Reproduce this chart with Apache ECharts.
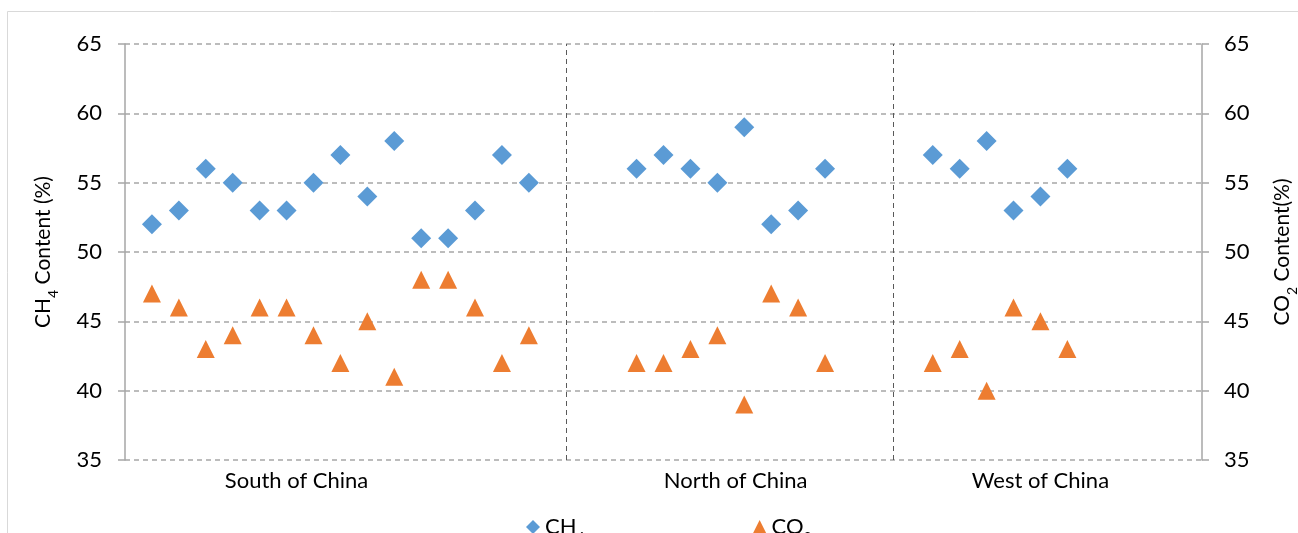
<!DOCTYPE html>
<html>
<head>
<meta charset="utf-8">
<script src="https://cdn.jsdelivr.net/npm/echarts@6/dist/echarts.min.js"></script>
<style>
html,body{margin:0;padding:0;background:#fff;}
#chart{width:1298px;height:533px;}
</style>
</head>
<body>
<div id="chart"></div>
<script>
// ---- data ----
const regions = ['South of China', 'North of China', 'West of China'];
const regionLabelPos = [6.37, 22.68, 34.0];      // sample-index position of region labels
const regionDividers = [16.38, 28.55];           // sample-index position of region separators

const southIdx = [1,2,3,4,5,6,7,8,9,10,11,12,13,14,15];
const southCH4 = [52,53,56,55,53,53,55,57,54,58,51,51,53,57,55];
const southCO2 = [47,46,43,44,46,46,44,42,45,41,48,48,46,42,44];

const northIdx = [19,20,21,22,23,24,25,26];
const northCH4 = [56,57,56,55,59,52,53,56];
const northCO2 = [42,42,43,44,39,47,46,42];

const westIdx = [30,31,32,33,34,35];
const westCH4 = [57,56,58,53,54,56];
const westCO2 = [42,43,40,46,45,43];

const yTicks = [35,40,45,50,55,60,65];

// ---- build ----
const idx = southIdx.concat(northIdx, westIdx);
const ch4 = southCH4.concat(northCH4, westCH4);
const co2 = southCO2.concat(northCO2, westCO2);
const ch4Data = idx.map((x, i) => [x, ch4[i]]);
const co2Data = idx.map((x, i) => [x, co2[i]]);

const FONT = 'Lato';
const FS = 22;
const gray = '#a6a6a6';
const subRich = {
  n: {fontFamily: FONT, fontSize: FS, color: '#000'},
  s: {fontFamily: FONT, fontSize: 14, color: '#000', verticalAlign: 'bottom', padding: [0,0,-6,0]}
};
const nameRich = {
  n: {fontFamily: FONT, fontSize: 21, color: '#000'},
  s: {fontFamily: FONT, fontSize: 14, color: '#000', verticalAlign: 'bottom', padding: [0,0,-6,0]}
};

const chart = echarts.init(document.getElementById('chart'), null, {renderer: 'canvas'});
chart.setOption({
  animation: false,
  backgroundColor: '#fff',
  graphic: [{
    type: 'rect', silent: true, z: -10,
    shape: {x: 7.5, y: 11.5, width: 1400, height: 700},
    style: {fill: 'none', stroke: '#d9d9d9', lineWidth: 1}
  }],
  grid: {left: 125, right: 96, top: 44, bottom: 73, containLabel: false, outerBoundsMode: 'none'},
  legend: {
    top: 511, left: 521,
    itemWidth: 14, itemHeight: 14, itemGap: 168,
    data: [{name: 'CH4', icon: 'diamond'}, {name: 'CO2', icon: 'triangle'}],
    formatter: n => n === 'CH4' ? '{n|CH}{s|4}' : '{n|CO}{s|2}',
    textStyle: {rich: subRich, fontFamily: FONT, fontSize: FS}
  },
  xAxis: {
    type: 'value', min: 0, max: 40,
    axisLine: {show: false}, axisTick: {show: false}, splitLine: {show: false},
    axisLabel: {
      customValues: regionLabelPos,
      formatter: v => {
        let best = 0;
        regionLabelPos.forEach((p, i) => { if (Math.abs(p - v) < Math.abs(regionLabelPos[best] - v)) best = i; });
        return regions[best];
      },
      fontFamily: FONT, fontSize: FS, color: '#000', margin: 10
    }
  },
  yAxis: [{
    type: 'value', min: yTicks[0], max: yTicks[yTicks.length-1], interval: 5,
    position: 'left',
    name: '{n|CH}{s|4}{n| Content (%)}',
    nameLocation: 'middle', nameGap: 71, nameRotate: 90,
    nameTextStyle: {rich: nameRich},
    axisLine: {show: true, lineStyle: {color: gray, width: 1.5}},
    axisTick: {show: true, length: 7, lineStyle: {color: gray, width: 1.5}},
    axisLabel: {fontFamily: FONT, fontSize: FS, color: '#000', margin: 23},
    splitLine: {show: true, lineStyle: {color: gray, type: [5, 4], width: 1.5}}
  }, {
    type: 'value', min: yTicks[0], max: yTicks[yTicks.length-1], interval: 5,
    position: 'right',
    name: '{n|CO}{s|2}{n| Content(%)}',
    nameLocation: 'middle', nameGap: 70, nameRotate: 90,
    nameTextStyle: {rich: nameRich},
    axisLine: {show: true, lineStyle: {color: gray, width: 1.5}},
    axisTick: {show: true, length: 7, lineStyle: {color: gray, width: 1.5}},
    axisLabel: {fontFamily: FONT, fontSize: FS, color: '#000', margin: 22},
    splitLine: {show: false}
  }],
  series: [{
    name: 'CH4', type: 'scatter', yAxisIndex: 0,
    symbol: 'diamond', symbolSize: 20,
    itemStyle: {color: '#5B9BD5', opacity: 1},
    data: ch4Data,
    markLine: {
      silent: true, symbol: 'none', label: {show: false},
      lineStyle: {color: '#595959', type: [5, 4], width: 1},
      data: regionDividers.map(v => ({xAxis: v}))
    }
  }, {
    name: 'CO2', type: 'scatter', yAxisIndex: 1,
    symbol: 'triangle', symbolSize: 18,
    itemStyle: {color: '#ED7D31', opacity: 1},
    data: co2Data
  }]
});
</script>
</body>
</html>
